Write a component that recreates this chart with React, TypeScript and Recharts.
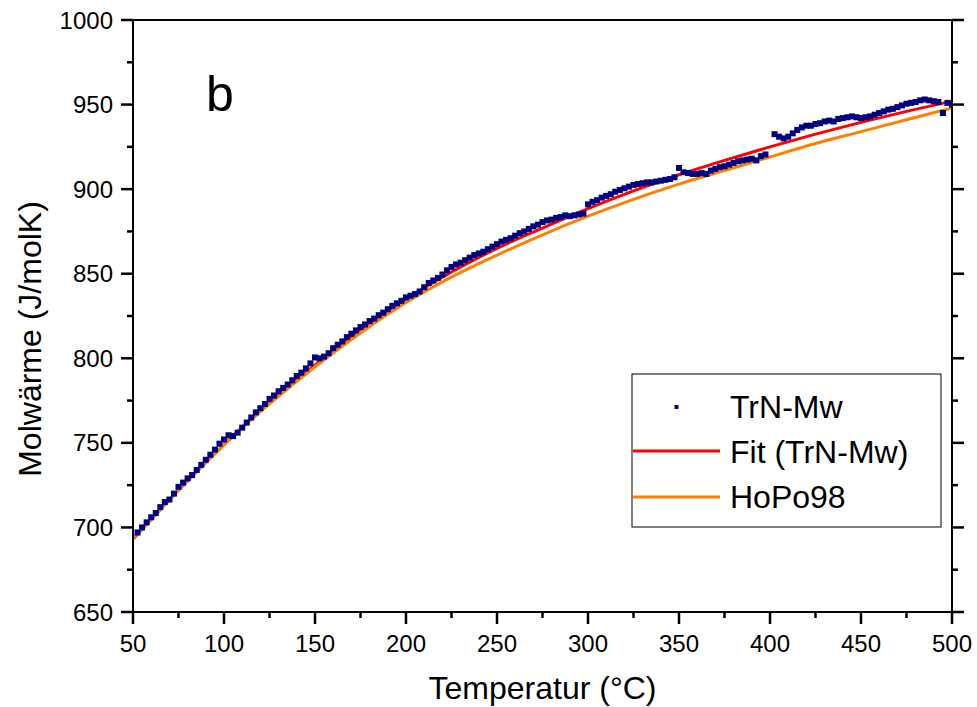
import React from 'react';
import { ComposedChart, Scatter, Line, XAxis, YAxis, Label } from 'recharts';

// --- data ---
const X_TICKS = [50, 75, 100, 125, 150, 175, 200, 225, 250, 275, 300, 325, 350, 375, 400, 425, 450, 475, 500];
const Y_TICKS = [650, 675, 700, 725, 750, 775, 800, 825, 850, 875, 900, 925, 950, 975, 1000];

// measured points (TrN-Mw)
const MW_T = [
  52.5, 55, 57.5, 60, 62.5, 65, 67.5, 70, 72.5, 75, 77.5, 80, 82.5, 85, 87.5, 90, 92.5, 95, 97.5, 100,
  102.5, 105, 107.5, 110, 112.5, 115, 117.5, 120, 122.5, 125, 127.5, 130, 132.5, 135, 137.5, 140, 142.5, 145, 147.5, 150,
  152.5, 155, 157.5, 160, 162.5, 165, 167.5, 170, 172.5, 175, 177.5, 180, 182.5, 185, 187.5, 190, 192.5, 195, 197.5, 200,
  202.5, 205, 207.5, 210, 212.5, 215, 217.5, 220, 222.5, 225, 227.5, 230, 232.5, 235, 237.5, 240, 242.5, 245, 247.5, 250,
  252.5, 255, 257.5, 260, 262.5, 265, 267.5, 270, 272.5, 275, 277.5, 280, 282.5, 285, 287.5, 290, 292.5, 295, 297.5, 300,
  302.5, 305, 307.5, 310, 312.5, 315, 317.5, 320, 322.5, 325, 327.5, 330, 332.5, 335, 337.5, 340, 342.5, 345, 347.5, 350,
  352.5, 355, 357.5, 360, 362.5, 365, 367.5, 370, 372.5, 375, 377.5, 380, 382.5, 385, 387.5, 390, 392.5, 395, 397.5,
  402.5, 405, 407.5, 410, 412.5, 415, 417.5, 420, 422.5, 425, 427.5, 430, 432.5, 435, 437.5, 440, 442.5, 445, 447.5, 450,
  452.5, 455, 457.5, 460, 462.5, 465, 467.5, 470, 472.5, 475, 477.5, 480, 482.5, 485, 487.5, 490, 492.5, 495, 497.5, 500,
];
const MW_CP = [
  697, 700, 703, 706, 708.5, 712, 715, 716.5, 720, 724, 726.5, 729, 731, 734, 737, 740, 743, 746, 749.5, 752,
  754.5, 754, 756, 759, 762, 765, 768, 770.5, 773, 776, 778, 780.5, 782.5, 784.5, 787, 789.5, 791.5, 794, 797, 800.5,
  800, 801, 803, 806, 808, 810, 812.5, 814.5, 816.5, 818.5, 820, 822, 823.5, 825.5, 827, 829, 831, 832.5, 834, 836,
  837, 838, 839.5, 842, 844.5, 846, 847.5, 849.5, 852, 854, 855.5, 856.5, 858, 859.5, 861, 862, 863, 864.5, 866, 867.5,
  869, 870, 871, 872.5, 874, 875, 876.5, 878, 879, 880.5, 881.5, 882, 883, 883.5, 884.5, 884, 884.5, 885, 885.5, 891,
  892.5, 893.5, 895, 896, 897, 898.5, 899.5, 900.5, 901.5, 902.5, 903, 903.5, 904, 904, 904.5, 905, 905.5, 906, 907, 912.5,
  910, 909.5, 909, 909, 909.5, 909, 911, 912, 913, 913.5, 914.5, 915.5, 916.5, 917, 917.5, 918, 917, 919.5, 920.5,
  932.5, 931, 930, 931, 933, 935, 936.5, 937.5, 937.5, 938.5, 939, 940, 940.5, 940, 941.5, 942, 942.5, 943, 942.5, 942,
  942.5, 943, 944, 945, 946, 947, 947.5, 948.5, 949.5, 950.5, 951, 951.5, 952.5, 953, 952.5, 952, 951.5, 945, 951, 950,
];

// curves
const CURVE_T = [50, 75, 100, 125, 150, 175, 200, 225, 250, 275, 300, 325, 350, 375, 400, 425, 450, 475, 500];
const FIT_CP = [693, 722, 749, 774, 796, 817, 835, 851, 865, 877, 888.5, 899, 908.5, 917, 925, 932.5, 939.5, 946, 952];
const HOPO_CP = [693, 722, 749, 773, 795, 815, 833, 848, 861, 873, 884, 894, 903, 911, 919, 927, 934, 941, 948];

const LEGEND = ['TrN-Mw', 'Fit (TrN-Mw)', 'HoPo98'];

const mwData = MW_T.map((t, i) => ({ t, cp: MW_CP[i] }));
const fitData = CURVE_T.map((t, i) => ({ t, v: FIT_CP[i] }));
const hopoData = CURVE_T.map((t, i) => ({ t, v: HOPO_CP[i] }));

const FONT = '"Liberation Sans", Arial, sans-serif';
const NAVY = '#000080';
const RED = '#ff0000';
const ORANGE = '#ff8000';

const isMajor = (v: number) => v % 50 === 0;

const BottomTick = ({ x, y, payload }: any) => {
  const major = isMajor(payload.value);
  return (
    <g>
      <path d={`M${x},${y}V${y + (major ? 12 : 6)}`} stroke="#000" strokeWidth={2.5} fill="none" />
      {major && (
        <text x={x} y={y + 40} textAnchor="middle" fontSize={24} fontFamily={FONT} fill="#000">
          {payload.value}
        </text>
      )}
    </g>
  );
};

const LeftTick = ({ x, y, payload }: any) => {
  const major = isMajor(payload.value);
  return (
    <g>
      <path d={`M${x},${y}H${x - (major ? 12 : 6)}`} stroke="#000" strokeWidth={2.5} fill="none" />
      {major && (
        <text x={x - 20} y={y + 8.5} textAnchor="end" fontSize={24} fontFamily={FONT} fill="#000">
          {payload.value}
        </text>
      )}
    </g>
  );
};

const RightTick = ({ x, y, payload }: any) => {
  const major = isMajor(payload.value);
  return <path d={`M${x},${y}H${x + (major ? 12 : 6)}`} stroke="#000" strokeWidth={2.5} fill="none" />;
};

const TopTick = ({ x, y }: any) => <path d={`M${x},${y}V${y + 3}`} stroke="#000" strokeWidth={2.5} fill="none" />;

const Square = (props: any) => {
  const { cx, cy } = props;
  if (cx == null || cy == null) return null;
  return <rect x={cx - 3} y={cy - 3} width={6} height={6} fill={NAVY} />;
};

const YTitle = ({ viewBox }: any) => {
  const cx = 41;
  const cy = viewBox.y + viewBox.height / 2 + 23;
  return (
    <text x={cx} y={cy} transform={`rotate(-90, ${cx}, ${cy})`} textAnchor="middle" fontSize={32} fontFamily={FONT} fill="#000">
      Molwärme (J/molK)
    </text>
  );
};

const App = () => {
  return (
    <div style={{ position: 'absolute', left: 0, top: 0, width: 977, height: 707, background: '#fff' }}>
      <ComposedChart width={977} height={707} margin={{ top: 0, right: 0, bottom: 0, left: 0 }}>
        <XAxis
          dataKey="t"
          type="number"
          domain={[50, 500]}
          ticks={X_TICKS}
          interval={0}
          height={95}
          tickSize={0}
          tickMargin={0}
          tickLine={false}
          axisLine={{ stroke: '#000', strokeWidth: 2 }}
          tick={<BottomTick />}
          allowDataOverflow
        >
          <Label value="Temperatur (°C)" position="insideBottom" offset={8} fontSize={32} fontFamily={FONT} fill="#000" />
        </XAxis>
        <XAxis
          xAxisId="top"
          orientation="top"
          type="number"
          domain={[50, 500]}
          ticks={X_TICKS}
          interval={0}
          height={20}
          tickSize={0}
          tickMargin={0}
          tickLine={false}
          axisLine={{ stroke: '#000', strokeWidth: 2 }}
          tick={<TopTick />}
          allowDataOverflow
        />
        <YAxis
          type="number"
          domain={[650, 1000]}
          ticks={Y_TICKS}
          interval={0}
          width={133}
          tickSize={0}
          tickMargin={0}
          tickLine={false}
          axisLine={{ stroke: '#000', strokeWidth: 2 }}
          tick={<LeftTick />}
          allowDataOverflow
        >
          <Label content={<YTitle />} />
        </YAxis>
        <YAxis
          yAxisId="right"
          orientation="right"
          type="number"
          domain={[650, 1000]}
          ticks={Y_TICKS}
          interval={0}
          width={25}
          tickSize={0}
          tickMargin={0}
          tickLine={false}
          axisLine={{ stroke: '#000', strokeWidth: 2 }}
          tick={<RightTick />}
          allowDataOverflow
        />
        <Scatter data={mwData} dataKey="cp" name={LEGEND[0]} shape={<Square />} isAnimationActive={false} />
        <Line data={fitData} dataKey="v" name={LEGEND[1]} type="monotone" stroke={RED} strokeWidth={3} dot={false} activeDot={false} isAnimationActive={false} />
        <Line data={hopoData} dataKey="v" name={LEGEND[2]} type="monotone" stroke={ORANGE} strokeWidth={3} dot={false} activeDot={false} isAnimationActive={false} />
      </ComposedChart>

      {/* panel letter */}
      <div style={{ position: 'absolute', left: 206, top: 66, fontSize: 50, fontFamily: FONT, lineHeight: '56px' }}>b</div>

      {/* legend box */}
      <svg width={977} height={707} style={{ position: 'absolute', left: 0, top: 0, pointerEvents: 'none' }}>
        <rect x={632} y={374} width={309} height={153} fill="#fff" stroke="#000" strokeWidth={1} />
        <rect x={674.5} y={405} width={4} height={4} fill={NAVY} />
        <line x1={633} y1={451} x2={720} y2={451} stroke={RED} strokeWidth={3} />
        <line x1={633} y1={497} x2={720} y2={497} stroke={ORANGE} strokeWidth={3} />
        {LEGEND.map((name, i) => (
          <text key={name} x={730} y={418 + i * 45} fontSize={32} fontFamily={FONT} fill="#000">
            {name}
          </text>
        ))}
      </svg>
    </div>
  );
};

export default App;
